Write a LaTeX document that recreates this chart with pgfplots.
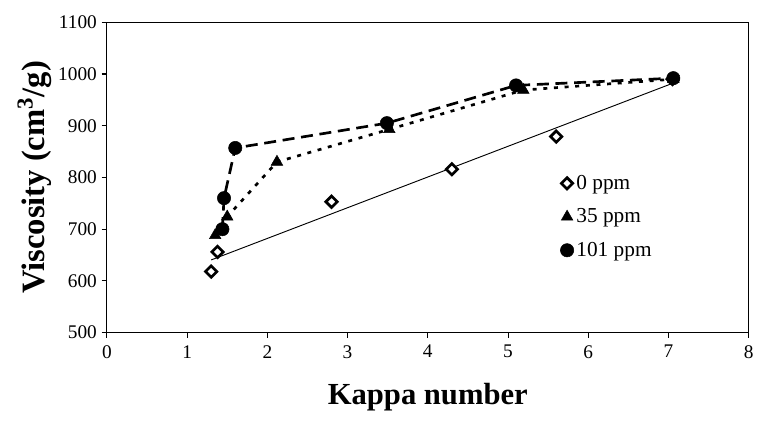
\documentclass[border=0pt]{standalone}
\usepackage{pgfplots}
\pgfplotsset{compat=1.18}
\usepackage{fontspec}
\setmainfont{Liberation Serif}
\begin{document}
\begin{tikzpicture}
\begin{axis}[
  at={(0,0)}, anchor=south west,
  scale only axis,
  width=482pt, height=233pt,
  xmin=0, xmax=8, ymin=500, ymax=1100,
  xtick={0,1,...,8}, ytick={500,600,...,1100},
  tick align=outside, major tick length=4pt,
  xtick pos=bottom, ytick pos=left,
  axis line style={line width=0.8pt},
  tick style={line width=0.8pt, black},
  /pgf/number format/assume math mode=true,
  /pgf/number format/1000 sep={},
  ticklabel style={font=\fontsize{14.5}{16}\selectfont},
  xticklabel style={yshift=-2pt},
  xlabel={\textbf{Kappa number}},
  ylabel={\textbf{Viscosity (cm\textsuperscript{3}/g)}},
  xlabel style={font=\fontsize{23}{26}\selectfont, yshift=-12pt},
  ylabel style={font=\fontsize{24.5}{27}\selectfont, yshift=-2pt},
  legend style={draw=none, fill=none, at={(0.70,0.525)}, anchor=north west,
    font=\fontsize{16}{18}\selectfont, row sep=9pt,
    /tikz/every even column/.append style={column sep=2pt}},
  legend cell align=left,
]
% lines
\addplot[black, line width=0.7pt, forget plot] coordinates {(1.3,640.5) (7.05,982)};
\addplot[black, line width=2pt, dash pattern=on 3pt off 5pt, forget plot] coordinates {
(1.35,688) (1.5,724) (2.12,830) (3.52,893) (5.19,969) (7.06,990)};
\addplot[black, line width=2pt, dash pattern=on 9pt off 5pt, forget plot] coordinates {
(1.44,700) (1.46,760) (1.6,857) (3.49,905) (5.10,978) (7.06,992)};
% markers
\addplot[only marks, mark=square*, mark size=3pt, mark options={rotate=45, fill=white, draw=black, line width=2pt}] coordinates {
(1.3,618) (1.38,656) (2.8,753) (4.3,816) (5.6,879) (7.05,990)};
\addlegendentry{0 ppm}
\addplot[only marks, mark=triangle*, mark size=5pt, fill=black, draw=black] coordinates {
(1.35,688) (1.5,724) (2.12,830) (3.52,893) (5.19,969) (7.06,990)};
\addlegendentry{35 ppm}
\addplot[only marks, mark=*, mark size=5pt, fill=black, draw=black] coordinates {
(1.44,700) (1.46,760) (1.6,857) (3.49,905) (5.10,978) (7.06,992)};
\addlegendentry{101 ppm}
\end{axis}
\useasboundingbox (-80.25pt,-66pt) rectangle (488.25pt,249.75pt);
\end{tikzpicture}
\end{document}
